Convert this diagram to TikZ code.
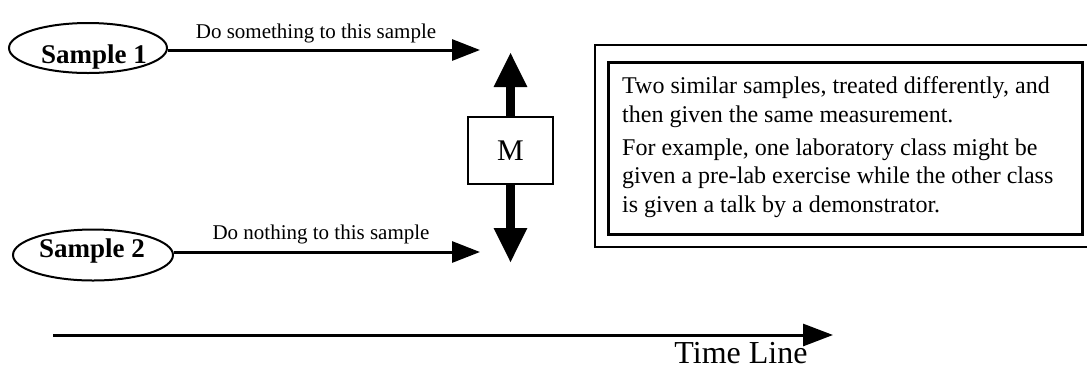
\documentclass[tikz,border=0pt]{standalone}
\usepackage{fontspec}
\setmainfont{Liberation Serif}
\usetikzlibrary{arrows.meta,shapes.geometric}
\tikzset{
  sampleell/.style={draw,ellipse,line width=2pt,inner sep=0pt},
  samplelbl/.style={font=\fontsize{27}{30}\selectfont\bfseries,inner sep=0pt,anchor=base},
  steplbl/.style={font=\fontsize{21}{24}\selectfont,inner sep=0pt,anchor=base},
  thinarrow/.style={line width=3pt,-{Triangle[length=28pt,width=21pt]}},
  thickarrow/.style={line width=9pt,-{Triangle[length=35pt,width=31pt]}},
  mbox/.style={draw,line width=2pt,minimum width=85pt,minimum height=67pt,inner sep=0pt,font=\fontsize{30}{33}\selectfont},
  boxline/.style={font=\fontsize{24}{29}\selectfont,inner sep=0pt,anchor=base west},
}
\begin{document}
\begin{tikzpicture}[x=1pt,y=-1pt]
\useasboundingbox (0,0) rectangle (1087,368);
\clip (0,0) rectangle (1087,368);
% samples
\node[sampleell,minimum width=158pt,minimum height=50pt] (s1) at (88,48) {};
\node[samplelbl] (s1t) at (94,63) {Sample 1};
\node[sampleell,minimum width=160pt,minimum height=51pt] (s2) at (93,255) {};
\node[samplelbl] (s2t) at (92,257) {Sample 2};
\coordinate (t1) at (480,50);
\coordinate (t2) at (480,252);
\draw[thinarrow] (s1.east |- t1) -- (t1);
\draw[thinarrow] (s2.east |- t2) -- (t2);
\node[steplbl] (l1) at (316,38) {Do something to this sample};
\node[steplbl] (l2) at (321,239) {Do nothing to this sample};
% measurement
\node[mbox] (m) at (510.5,150.5) {M};
\coordinate (mu) at (510.5,52);
\coordinate (md) at (510.5,263);
\draw[thickarrow] (m.north) -- (mu);
\draw[thickarrow] (m.south) -- (md);
% description box
\draw[line width=2.5pt] (595,45) rectangle (1100,247);
\draw[line width=3pt] (608,62) rectangle (1082,234);
\node[boxline] (p1) at (622,93) {Two similar samples, treated differently, and};
\node[boxline] (p2) at (622,122) {then given the same measurement.};
\node[boxline] (p3) at (622,155) {For example, one laboratory class might be};
\node[boxline] (p4) at (622,183) {given a pre-lab exercise while the other class};
\node[boxline] (p5) at (622,212) {is given a talk by a demonstrator.};
% time line
\coordinate (ts) at (53,335);
\coordinate (te) at (833,335);
\draw[line width=3pt,-{Triangle[length=30pt,width=22pt]}] (ts) -- (te);
\node[font=\fontsize{32}{36}\selectfont,inner sep=0pt,anchor=base] (tl) at (741,363) {Time Line};
\end{tikzpicture}
\end{document}
